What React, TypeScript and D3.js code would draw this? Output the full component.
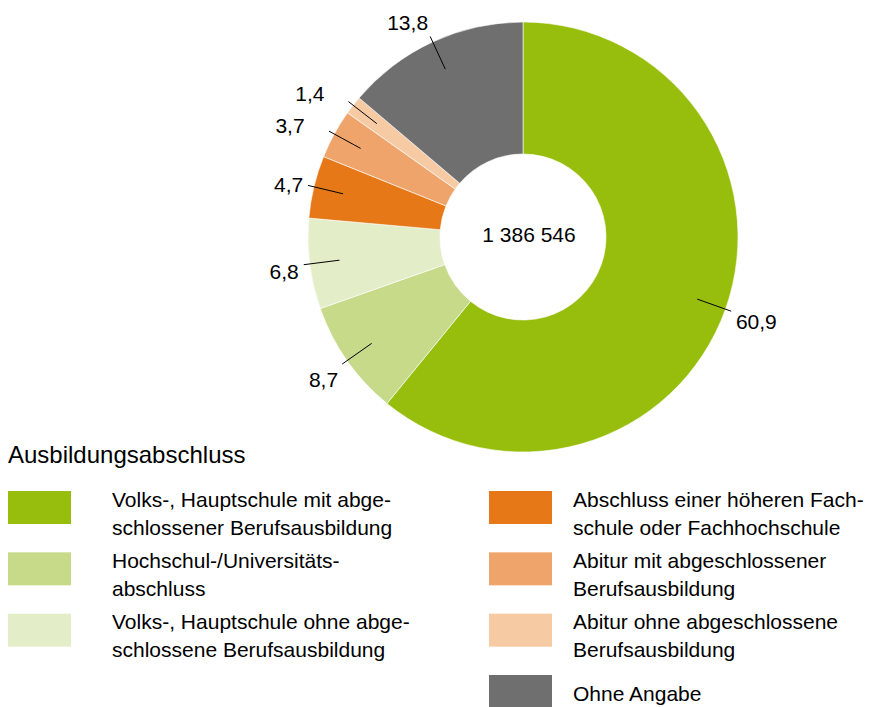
import React from "react";
import * as d3 from "d3";

const categories: string[] = [
  "Volks-, Hauptschule mit abge-\nschlossener Berufsausbildung",
  "Hochschul-/Universitäts-\nabschluss",
  "Volks-, Hauptschule ohne abge-\nschlossene Berufsausbildung",
  "Abschluss einer höheren Fach-\nschule oder Fachhochschule",
  "Abitur mit abgeschlossener\nBerufsausbildung",
  "Abitur ohne abgeschlossene\nBerufsausbildung",
  "Ohne Angabe",
];
const values: number[] = [60.9, 8.7, 6.8, 4.7, 3.7, 1.4, 13.8];
const colors: string[] = [
  "#97be0d",
  "#c6da8a",
  "#e3edc8",
  "#e67818",
  "#efa46b",
  "#f6caa3",
  "#706f6f",
];
const legendTitle = "Ausbildungsabschluss";
const totalLabel = "1 386 546";

const W = 869;
const H = 707;
const CX = 523;
const CY = 237;
const R_OUT = 215;
const R_IN = 83;
const FONT = "'Liberation Sans', Arial, Helvetica, sans-serif";

const fmt = (v: number) => d3.format(".1f")(v).replace(".", ",");

export default function App() {
  const pie = d3
    .pie<number>()
    .sort(null)
    .value((d) => d);
  const arcs = pie(values);
  const arcGen = d3.arc<d3.PieArcDatum<number>>().innerRadius(R_IN).outerRadius(R_OUT);

  const polar = (r: number, a: number): [number, number] => [
    r * Math.sin(a),
    -r * Math.cos(a),
  ];

  const legendRows = [0, 1, 2].map((i) => ({ i, col: 0, row: i }));
  const rightRows = [3, 4, 5, 6].map((i, k) => ({ i, col: 1, row: k }));
  const allRows = [...legendRows, ...rightRows];
  const rowTop = d3.scaleLinear().domain([0, 3]).range([491, 675]);
  const colX = [8, 489];
  const textX = [112, 573];

  return (
    <svg
      width={W}
      height={H}
      style={{ position: "absolute", left: 0, top: 0, fontFamily: FONT }}
    >
      <rect width={W} height={H} fill="#ffffff" />
      <g transform={`translate(${CX},${CY})`}>
        {arcs.map((a, i) => (
          <path
            key={i}
            d={arcGen(a) || ""}
            fill={colors[i]}
            stroke="#ffffff"
            strokeWidth={0.6}
          />
        ))}
        {arcs.map((a, i) => {
          const mid = (a.startAngle + a.endAngle) / 2;
          const [x1, y1] = polar(185, mid);
          const [x2, y2] = polar(221, mid);
          const s = Math.sin(mid);
          const c = Math.cos(mid);
          const right = s > 0;
          const extra = values[i] < 4 ? 20 : 0;
          const lx = x2 + (right ? 1 : -1) * (5 * Math.abs(s) + extra);
          const ly = y2 + 4 - 20 * c;
          return (
            <g key={"l" + i}>
              <line x1={x1} y1={y1} x2={x2} y2={y2} stroke="#000" strokeWidth={1} />
              <text
                x={lx}
                y={ly}
                textAnchor={right ? "start" : "end"}
                dominantBaseline="central"
                fontSize={21}
                fill="#000"
              >
                {fmt(values[i])}
              </text>
            </g>
          );
        })}
        <text x={6} y={5} textAnchor="middle" fontSize={21} fill="#000">
          {totalLabel}
        </text>
      </g>

      <text x={8} y={463} fontSize={24} fill="#000">
        {legendTitle}
      </text>
      {allRows.map(({ i, col, row }) => {
        const top = rowTop(row);
        const lines = categories[i].split("\n");
        return (
          <g key={"lg" + i}>
            <rect x={colX[col]} y={top} width={63} height={33} fill={colors[i]} />
            {lines.length === 1 ? (
              <text x={textX[col]} y={top + 26} fontSize={21} fill="#000">
                {lines[0]}
              </text>
            ) : (
              lines.map((ln, k) => (
                <text
                  key={k}
                  x={textX[col]}
                  y={top + 15.5 + k * 28}
                  fontSize={21}
                  fill="#000"
                >
                  {ln}
                </text>
              ))
            )}
          </g>
        );
      })}
    </svg>
  );
}
